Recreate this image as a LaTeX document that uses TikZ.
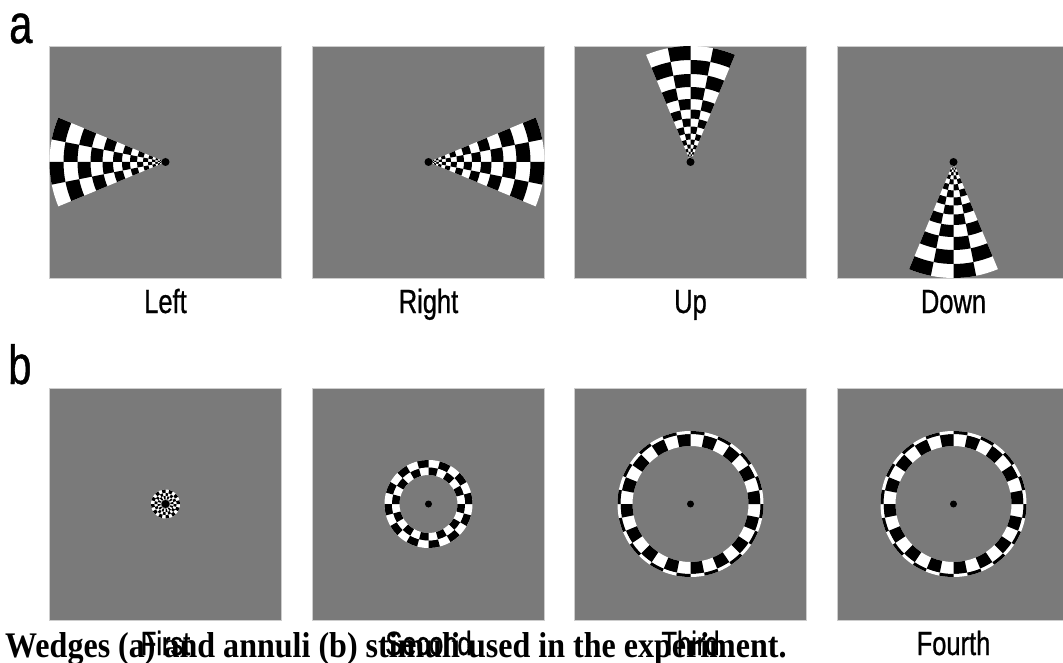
\documentclass[tikz,border=0pt]{standalone}
\usepackage{fontspec}
\newfontfamily\condsans[FakeStretch=0.76, FakeBold=0.8]{Liberation Sans}
\newfontfamily\capserif[FakeStretch=0.89]{Liberation Serif}
\definecolor{panelgray}{RGB}{122,122,122}
\definecolor{paneledge}{RGB}{205,205,205}
\tikzset{
  panel/.style={fill=panelgray, draw=paneledge, line width=0.8pt},
  lab/.style={font=\condsans\fontsize{33.5}{36}\selectfont, anchor=base, inner sep=0pt},
  letter/.style={font=\condsans\fontsize{55}{60}\selectfont, anchor=base west, inner sep=0pt},
  capt/.style={font=\capserif\bfseries\fontsize{36}{40}\selectfont, anchor=base west, inner sep=0pt},
  fixdot/.style={fill=black}
}
% ring radii of the wedges (outer to inner)
\def\wedgeradii{116,102,88,75,63,52.5,43.5,35.5,28.5,22.5,17.5,13.5,10.3,7.8,5.8,4.3,3.1,2.2,1.5}
% wedge: cx, cy, centre angle, parity
\newcommand{\wedgestim}[4]{%
\begin{scope}[shift={(#1,#2)}, yscale=-1]
  \fill[white] (0,0) -- (#3-22.5:116) arc[start angle=#3-22.5, end angle=#3+22.5, radius=116] -- cycle;
  \foreach \ro [count=\k from 0, remember=\ro as \rprev] in \wedgeradii {
    \ifnum\k>0
      \foreach \j in {0,...,3} {
        \pgfmathsetmacro{\aa}{#3-22.5+11.25*\j}
        \pgfmathsetmacro{\ab}{\aa+11.25}
        \pgfmathtruncatemacro{\cpar}{mod(\j+\k+1+#4,2)}
        \ifnum\cpar=0
          \fill[black] (\aa:\rprev) arc[start angle=\aa, end angle=\ab, radius=\rprev] -- (\ab:\ro) arc[start angle=\ab, end angle=\aa, radius=\ro] -- cycle;
        \fi
      }
    \fi
  }
\end{scope}}
% ring of cells: cx, cy, r_in, r_out, n segments, parity
\newcommand{\ringcells}[6]{%
\begin{scope}[shift={(#1,#2)}, yscale=-1]
  \fill[white, even odd rule] (0,0) circle[radius=#4] (0,0) circle[radius=#3];
  \pgfmathsetmacro{\da}{360/#5}
  \foreach \j in {1,...,#5} {
    \pgfmathtruncatemacro{\cpar}{mod(\j+#6,2)}
    \ifnum\cpar=0
      \pgfmathsetmacro{\aa}{\j*\da}
      \pgfmathsetmacro{\ab}{(\j+1)*\da}
      \fill[black] (\aa:#4) arc[start angle=\aa, end angle=\ab, radius=#4] -- (\ab:#3) arc[start angle=\ab, end angle=\aa, radius=#3] -- cycle;
    \fi
  }
\end{scope}}
\begin{document}
\begin{tikzpicture}[x=1pt,y=-1pt]
\useasboundingbox (0,0) rectangle (1063,663);
\clip (0,0) rectangle (1063,663);
\fill[white] (0,0) rectangle (1063,663);

% panel letters
\node[letter] (la) at (9,43) {a};
\node[letter] (lb) at (8,384) {b};

% panels
\foreach \px in {49.5,312.5,574.5,837.5} {
  \filldraw[panel] (\px,46) rectangle ++(232,232);
  \filldraw[panel] (\px,388) rectangle ++(232,232);
}

% wedges
\wedgestim{165.5}{162}{180}{0}
\wedgestim{428.5}{162}{0}{1}
\wedgestim{690.5}{162}{90}{0}
\wedgestim{953.5}{162}{270}{0}
\foreach \cx in {165.5,428.5,690.5,953.5} {
  \fill[fixdot] (\cx,162) circle[radius=4];
}

% annuli
% first
\ringcells{165.5}{504}{11}{14.5}{24}{0}
\ringcells{165.5}{504}{8}{11}{24}{1}
\ringcells{165.5}{504}{5}{8}{24}{0}
\fill[fixdot] (165.5,504) circle[radius=4];
% second
\ringcells{428.5}{504}{36.5}{44}{24}{0}
\ringcells{428.5}{504}{29}{36.5}{24}{1}
\fill[fixdot] (428.5,504) circle[radius=3.5];
% third
\ringcells{690.5}{504}{58}{70}{32}{0}
\ringcells{690.5}{504}{70}{73}{32}{1}
\fill[fixdot] (690.5,504) circle[radius=3.5];
% fourth
\ringcells{953.5}{504}{58}{70}{32}{0}
\ringcells{953.5}{504}{70}{73}{32}{1}
\fill[fixdot] (953.5,504) circle[radius=3.5];

% labels row a
\node[lab] (tleft) at (165.5,313) {Left};
\node[lab] (tright) at (428.5,313) {Right};
\node[lab] (tup) at (690.5,313) {Up};
\node[lab] (tdown) at (953.5,313) {Down};
% labels row b
\node[lab] (tfirst) at (165.5,655) {First};
\node[lab] (tsecond) at (428.5,655) {Second};
\node[lab] (tthird) at (690.5,655) {Third};
\node[lab] (tfourth) at (953.5,655) {Fourth};

% caption
\node[capt] (caption) at (5,657) {Wedges (a) and annuli (b) stimuli used in the experiment.};
\end{tikzpicture}
\end{document}
